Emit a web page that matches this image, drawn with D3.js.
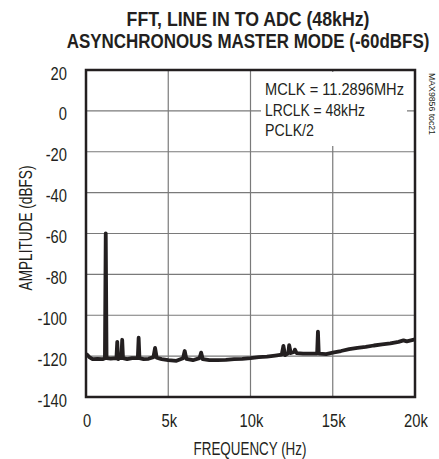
<!DOCTYPE html>
<html><head><meta charset="utf-8">
<script src="https://cdn.jsdelivr.net/npm/d3@7"></script>
<style>
body{margin:0;background:#fff;}
svg text{font-family:"Liberation Sans",Arial,sans-serif;fill:#231f20;}
</style></head><body>
<svg id="chart" width="439" height="459"></svg>
<script>
const titleLines = ["FFT, LINE IN TO ADC (48kHz)", "ASYNCHRONOUS MASTER MODE (-60dBFS)"];
const xTicks = [0, 5000, 10000, 15000, 20000];
const xTickLabels = ["0", "5k", "10k", "15k", "20k"];
const yTicks = [20, 0, -20, -40, -60, -80, -100, -120, -140];
const annotation = ["MCLK = 11.2896MHz", "LRCLK = 48kHz", "PCLK/2"];
const freqHz = [0,100,200,400,700,1000,1150,1200,1250,1500,1850,1900,1950,2050,2150,2200,2250,2500,2800,3150,3200,3250,3500,3800,4100,4200,4300,4600,5000,5500,5900,6000,6100,6500,6900,7000,7100,7500,8000,8500,9000,9500,10000,10500,11000,11500,11900,12000,12100,12300,12350,12450,12650,12700,12800,13200,13600,14050,14100,14150,14600,15000,15500,16000,16500,17000,17500,18000,18500,19000,19300,19500,20000];
const amplitudeDb = [-119,-119.5,-120.5,-121.5,-121.3,-121.5,-121,-60,-121,-121.2,-121,-113,-121.5,-121,-121,-112,-121,-121.5,-121,-121,-111,-121,-121.5,-121.3,-120.5,-116,-120.8,-121.5,-122,-122.3,-121,-117.5,-121.3,-122,-121,-118.3,-121.5,-122,-122,-121.8,-121.5,-121.3,-121,-120.5,-120.2,-119.7,-119.3,-115,-119.5,-118.5,-114.6,-118.5,-118,-116.8,-118.5,-118.8,-118.8,-118.8,-108,-118.8,-119,-118.3,-117.5,-116.6,-116,-115.5,-114.8,-114.3,-113.8,-113,-112.3,-112.8,-111.8];

const svg = d3.select("#chart");
const L = 86, R = 415, T = 70, B = 397;
const x = d3.scaleLinear().domain([0, 20000]).range([L, R]);
const y = d3.scaleLinear().domain([-140, 20]).range([B, T]);

// place text at (px,py) with rotation, horizontally condensed to a target width
function label(parent, txt, px, py, opts) {
  const o = Object.assign({size: 18, weight: "normal", anchor: "start", rotate: 0, width: null, factor: 0.82}, opts);
  const t = parent.append("text").style("font-size", o.size + "px").style("font-weight", o.weight)
    .attr("text-anchor", o.anchor).text(txt);
  const w = t.node().getComputedTextLength();
  const s = o.width ? o.width / w : o.factor;
  t.attr("transform", `translate(${px},${py}) rotate(${o.rotate}) scale(${s},1)`);
  return t;
}

// title
const titleW = [243, 363];
titleLines.forEach((d, i) => label(svg, d, 248, 26 + i * 22, {size: 19.5, weight: "bold", anchor: "middle", width: titleW[i]}));

// grid
const g = svg.append("g");
g.selectAll("line.vg").data(xTicks.slice(1,-1)).join("line")
  .attr("x1", d=>x(d)).attr("x2", d=>x(d)).attr("y1", T).attr("y2", B)
  .attr("stroke","#7a7a7a").attr("stroke-width",1.2);
g.selectAll("line.hg").data(yTicks.slice(1,-1)).join("line")
  .attr("x1", L).attr("x2", R).attr("y1", d=>y(d)).attr("y2", d=>y(d))
  .attr("stroke","#7a7a7a").attr("stroke-width",1.2);

// annotation box (white background)
svg.append("rect").attr("x", 261).attr("y", 72).attr("width", 146).attr("height", 74).attr("fill","#fff");
const annW = [139, 100, 49];
annotation.forEach((d, i) => label(svg, d, 265, 95 + i * 20.5, {size: 17, width: annW[i]}));

// data line
const line = d3.line().x((d,i)=>x(freqHz[i])).y(d=>y(d));
svg.append("path").datum(amplitudeDb).attr("d", line)
  .attr("fill","none").attr("stroke","#231f20").attr("stroke-width",3.8).attr("stroke-linejoin","round");

// frame
svg.append("rect").attr("x", L).attr("y", T).attr("width", R-L).attr("height", B-T)
  .attr("fill","none").attr("stroke","#231f20").attr("stroke-width",2.5);

// axes labels
yTicks.forEach(d => label(svg, String(d), 67, y(d) + 9.5, {anchor: "end"}));
xTicks.forEach((d, i) => label(svg, xTickLabels[i], x(d) + 1, 427, {anchor: "middle"}));
label(svg, "FREQUENCY (Hz)", 250, 455, {anchor: "middle", width: 113});
label(svg, "AMPLITUDE (dBFS)", 32, 228, {anchor: "middle", rotate: -90, width: 125});
label(svg, "MAX9856 toc21", 429, 104, {size: 8.5, anchor: "middle", rotate: 90, width: 62});
</script></body></html>
